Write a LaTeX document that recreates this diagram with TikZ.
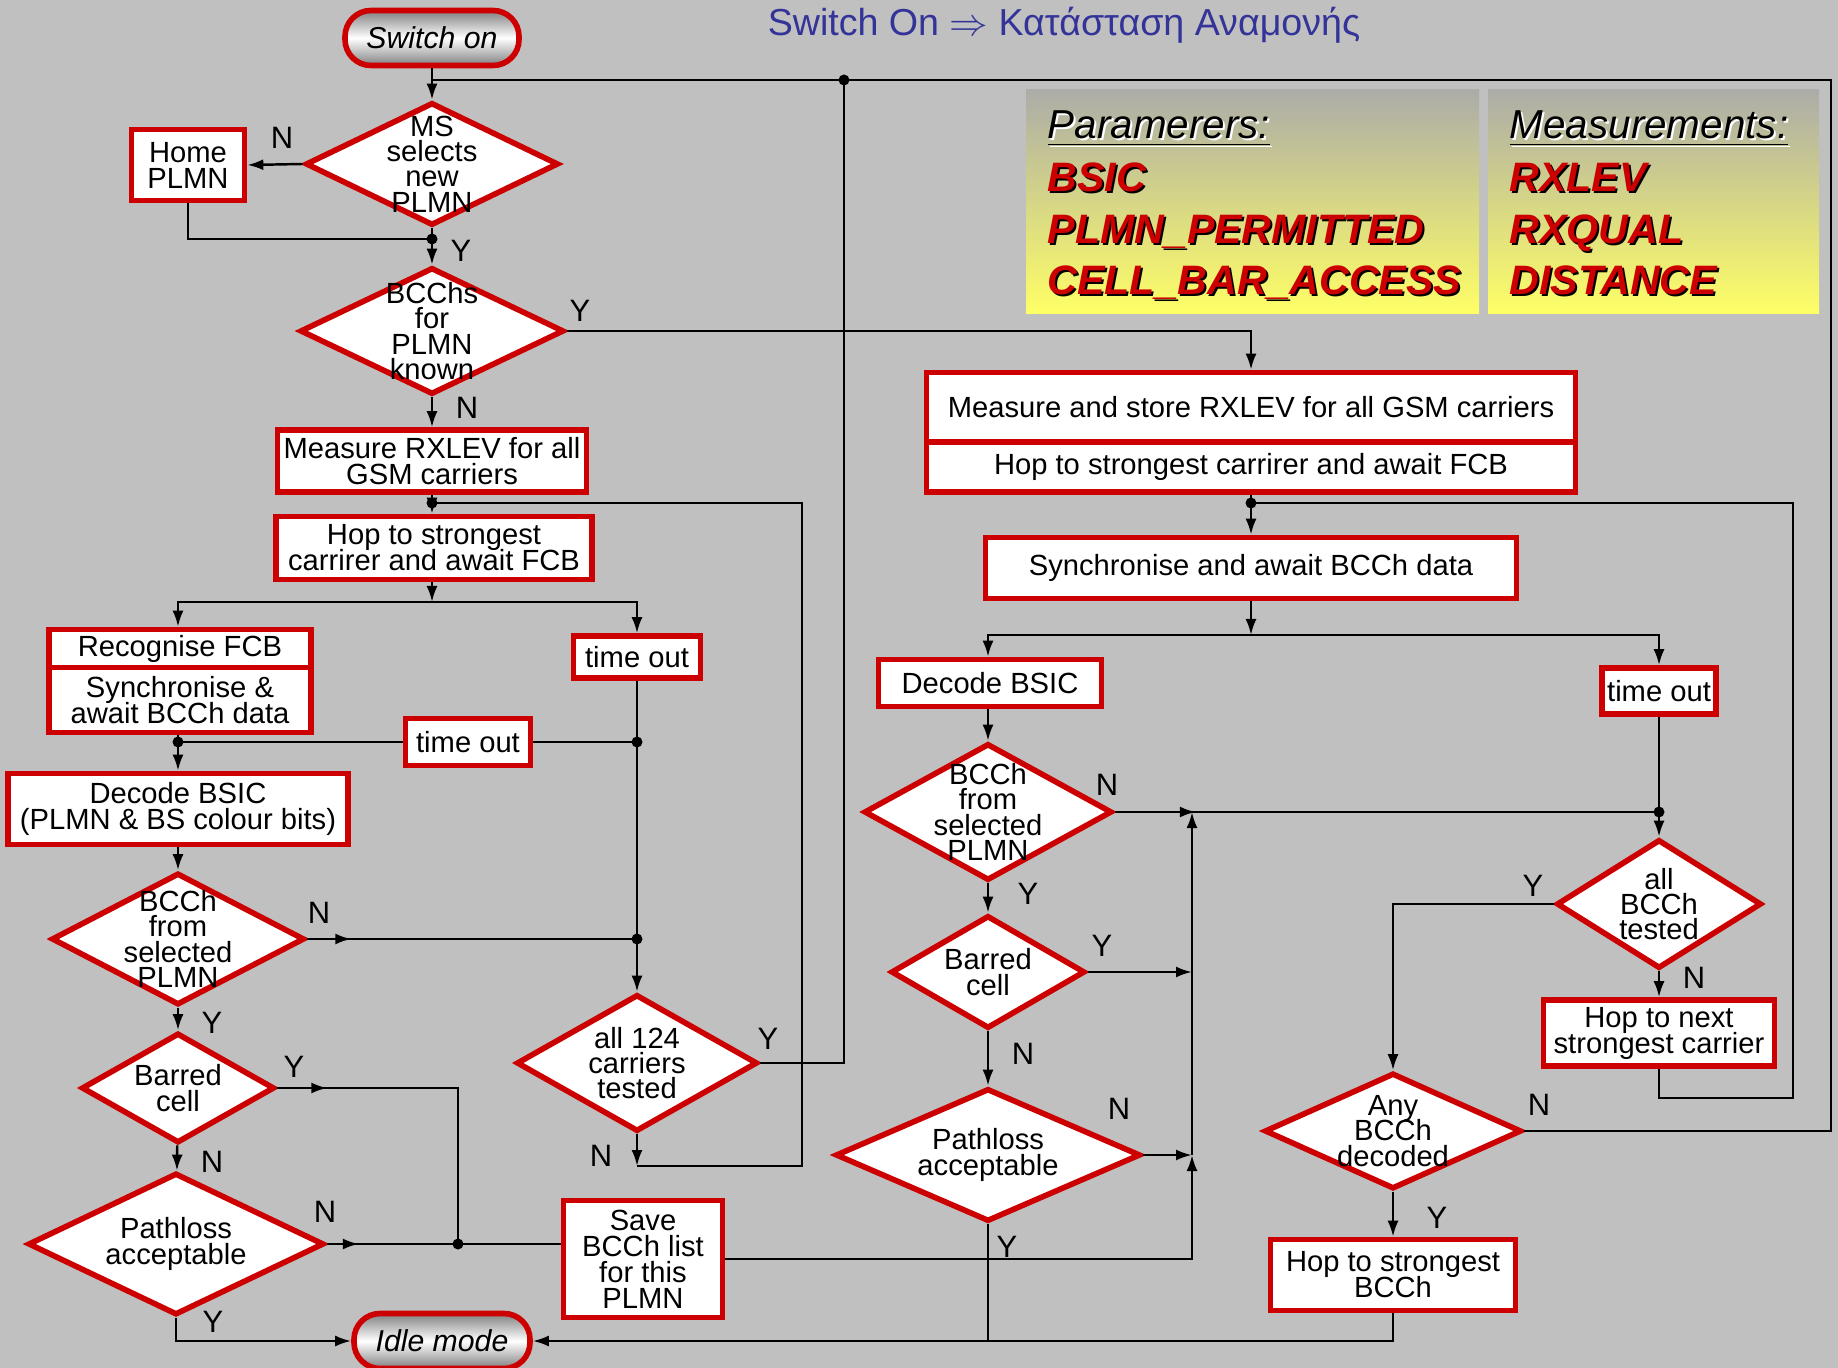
\documentclass[tikz,border=0pt]{standalone}
\usepackage{fontspec}
\setmainfont{Liberation Sans}
\usetikzlibrary{shapes,arrows.meta,positioning,decorations.markings}

\definecolor{bggray}{RGB}{192,192,192}
\definecolor{boxred}{RGB}{204,0,0}
\definecolor{titleblue}{RGB}{51,51,153}
\definecolor{legtop}{RGB}{172,172,168}
\definecolor{legbot}{RGB}{255,255,102}
\lineskiplimit=-20pt

\begin{document}
\begin{tikzpicture}[x=0.1mm, y=-0.1mm,
    block/.style={rectangle, draw=boxred, line width=1.6pt, fill=white, align=center, inner sep=1pt,
      font=\fontsize{8.3}{7.4}\selectfont},
    decision/.style={diamond, draw=boxred, line width=1.6pt, fill=white, inner sep=0pt},
    dtext/.style={align=center, inner sep=0pt, font=\fontsize{8.3}{7.2}\selectfont},
    terminal/.style={rectangle, rounded corners=2.6mm, draw=boxred, line width=1.6pt,
      top color=gray, bottom color=gray, middle color=white, font=\fontsize{8.6}{10}\selectfont\itshape},
    line/.style={draw, -{Latex[length=1.6mm,width=1.1mm]}, line width=0.7pt},
    wire/.style={draw, line width=0.7pt},
    midarrow/.style={postaction={decorate, decoration={markings,
      mark=at position #1 with {\arrow{Latex[length=1.6mm,width=1.1mm]}}}}},
    dot/.style={circle, fill=black, inner sep=0pt, minimum size=1.1mm},
    yn/.style={font=\fontsize{8.8}{9}\selectfont, inner sep=0pt},
    legpanel/.style={rectangle, top color=legtop, bottom color=legbot, inner sep=0pt},
    leghead/.style={anchor=base west, inner sep=0pt, font=\fontsize{11.5}{14}\selectfont\itshape},
    legitem/.style={anchor=base west, inner sep=0pt, font=\fontsize{11.7}{14}\selectfont\bfseries\itshape}]

    \useasboundingbox (0,0) rectangle (1838,1368);
    \fill[bggray] (0,0) rectangle (1838,1368);

    % Title and legend
    \node[font=\fontsize{10.7}{12}\selectfont, text=titleblue] (title) at (1064,25) {Switch On $\Rightarrow$ Κατάσταση Αναμονής};
    \node[legpanel, minimum width=45.3mm, minimum height=22.4mm] (parpanel) at (1252.5,202) {};
    \node[legpanel, minimum width=33.1mm, minimum height=22.4mm] (meapanel) at (1653.5,202) {};
    \node[leghead, text=white] (parheads) at (1049,141) {\underline{Paramerers:}};
    \node[leghead] (parhead) at (1047,139) {\underline{Paramerers:}};
    \node[leghead, text=white] (meaheads) at (1511,141) {\underline{Measurements:}};
    \node[leghead] (meahead) at (1509,139) {\underline{Measurements:}};
    \foreach \ltxt/\ly [count=\i] in {BSIC/192, PLMN\_PERMITTED/244, CELL\_BAR\_ACCESS/295} {
      \node[legitem, text=black] (pars\i) at (1049,\ly+2) {\ltxt};
      \node[legitem, text=boxred] (par\i) at (1047,\ly) {\ltxt};
    }
    \foreach \ltxt/\ly [count=\i] in {RXLEV/192, RXQUAL/244, DISTANCE/295} {
      \node[legitem, text=black] (meas\i) at (1511,\ly+2) {\ltxt};
      \node[legitem, text=boxred] (mea\i) at (1509,\ly) {\ltxt};
    }

    % Nodes, left part
    \node[terminal, minimum width=17.4mm, minimum height=5.5mm] (switchon) at (432,38) {Switch on};
    \node[decision, minimum width=25.3mm, minimum height=12.3mm] (msdec) at (432,164) {};
    \node[dtext] (msdec-t) at (msdec) {MS\\selects\\new\\PLMN};
    \node[block, minimum width=11.3mm, minimum height=7.1mm] (home) at (188,165) {Home\\PLMN};
    \node[decision, minimum width=26.4mm, minimum height=12.7mm] (bcchs) at (432,331) {};
    \node[dtext] (bcchs-t) at (bcchs) {BCChs\\for\\PLMN\\known};
    \node[block, minimum width=30.9mm, minimum height=6.2mm] (measL) at (432,461) {Measure RXLEV for all\\GSM carriers};
    \node[block, minimum width=31.6mm, minimum height=6.3mm] (hopL) at (434,548) {Hop to strongest\\carrirer and await FCB};
    \node[block, minimum width=26.2mm, minimum height=3.9mm] (recog) at (180,649) {Recognise FCB};
    \node[block, minimum width=26.2mm, minimum height=6.5mm] (syncL) at (180,700) {Synchronise \&\\await BCCh data};
    \node[block, minimum width=12.7mm, minimum height=4.2mm] (tout1) at (637,657) {time out};
    \node[block, minimum width=12.5mm, minimum height=4.7mm] (tout2) at (468,742) {time out};
    \node[block, minimum width=34mm, minimum height=7.1mm] (decL) at (178,809) {Decode BSIC\\(PLMN \& BS colour bits)};
    \node[decision, minimum width=25.3mm, minimum height=13.2mm] (bcchL) at (178,939) {};
    \node[dtext] (bcchL-t) at (bcchL) {BCCh\\from\\selected\\PLMN};
    \node[decision, minimum width=19.3mm, minimum height=11mm] (barL) at (178,1088) {};
    \node[dtext] (barL-t) at (barL) {Barred\\cell};
    \node[decision, minimum width=29.6mm, minimum height=14.2mm] (pathL) at (176,1244) {};
    \node[dtext] (pathL-t) at (pathL) {Pathloss\\acceptable};
    \node[decision, minimum width=24.1mm, minimum height=13.7mm] (all124) at (637,1063) {};
    \node[dtext] (all124-t) at (all124) {all 124\\carriers\\tested};
    \node[block, minimum width=15.9mm, minimum height=11.7mm] (save) at (643,1259) {Save\\BCCh list\\for this\\PLMN};
    \node[terminal, minimum width=17.6mm, minimum height=5.5mm] (idle) at (442,1341) {Idle mode};

    % Nodes, right part
    \node[block, minimum width=64.9mm, minimum height=6.9mm] (measR) at (1251,407) {Measure and store RXLEV for all GSM carriers};
    \node[block, minimum width=64.9mm, minimum height=5mm] (hopR) at (1251,467) {Hop to strongest carrirer and await FCB};
    \node[block, minimum width=53.1mm, minimum height=6.1mm] (syncR) at (1251,568) {Synchronise and await BCCh data};
    \node[block, minimum width=22.3mm, minimum height=4.7mm] (decR) at (990,683) {Decode BSIC};
    \node[block, minimum width=11.4mm, minimum height=4.6mm] (tout3) at (1659,691) {time out};
    \node[decision, minimum width=24.8mm, minimum height=13.7mm] (bcchR) at (988,812) {};
    \node[dtext] (bcchR-t) at (bcchR) {BCCh\\from\\selected\\PLMN};
    \node[decision, minimum width=19.4mm, minimum height=11.3mm] (barR) at (988,972) {};
    \node[dtext] (barR-t) at (barR) {Barred\\cell};
    \node[decision, minimum width=30.5mm, minimum height=13.3mm] (pathR) at (988,1155) {};
    \node[dtext] (pathR-t) at (pathR) {Pathloss\\acceptable};
    \node[decision, minimum width=20.5mm, minimum height=12.9mm] (allb) at (1659,904) {};
    \node[dtext] (allb-t) at (allb) {all\\BCCh\\tested};
    \node[block, minimum width=23.1mm, minimum height=6.6mm] (hopnext) at (1659,1033) {Hop to next\\strongest carrier};
    \node[decision, minimum width=25.7mm, minimum height=11.6mm] (anyb) at (1393,1131) {};
    \node[dtext] (anyb-t) at (anyb) {Any\\BCCh\\decoded};
    \node[block, minimum width=24.5mm, minimum height=7.1mm] (hopbest) at (1393,1275) {Hop to strongest\\BCCh};

    % Junctions
    \coordinate (jtop) at (432,80);
    \coordinate (jy) at (844,80);
    \coordinate (rtop) at (1831,80);
    \coordinate (jhome) at (432,239);
    \coordinate (jl1) at (432,503);
    \coordinate (lloop) at (802,503);
    \coordinate (jl2) at (432,602);
    \coordinate (jsync) at (178,742);
    \coordinate (jto) at (637,742);
    \coordinate (jnl) at (637,939);
    \coordinate (jbar) at (458,1244);
    \coordinate (jn124) at (637,1166);
    \coordinate (jr1) at (1251,503);
    \coordinate (rloop) at (1793,1098);
    \coordinate (jr2) at (1251,635);
    \coordinate (jup) at (1192,812);
    \coordinate (jnr) at (1659,812);

    % Edges, left part
    \path [line] (switchon) -- (msdec);
    \path [line] (msdec.west) -- (home.east);
    \path [wire] (home) |- (jhome);
    \path [line] (msdec) -- (bcchs);
    \path [line] (bcchs) -- (measL);
    \path [line] (measL) -- (measL |- hopL.north);
    \path [line] (jl1 |- hopL.south) -- (jl2);
    \path [line] (jl2) -| (recog.north -| jsync);
    \path [line] (jl2) -| (tout1);
    \path [wire] (tout1) -- (jnl);
    \path [line] (jnl) -- (all124);
    \path [line] (jsync |- syncL.south) -- (decL);
    \path [wire] (jsync) -- (tout2);
    \path [wire] (tout2) -- (jto);
    \path [line] (decL) -- (bcchL);
    \path [wire, midarrow=4.4mm] (bcchL.east) -- (jnl);
    \path [line] (bcchL) -- (barL);
    \path [wire, midarrow=5mm] (barL.east) -| (jbar);
    \path [line] (barL) -- (pathL);
    \path [wire, midarrow=3.2mm] (pathL.east) -- (save.west |- pathL.east);
    \path [line] (pathL) |- (idle);
    \path [line] (all124) -- (jn124);
    \path [wire] (jn124) -| (lloop) -- (jl1);
    \path [wire] (all124) -| (jy);
    \path [wire] (anyb) -| (rtop) -- (jtop);

    % Edges, right part
    \path [line] (bcchs) -| (measR);
    \path [line] (hopR) -- (syncR);
    \path [line] (syncR) -- (jr2);
    \path [line] (jr2) -| (decR.north -| bcchR);
    \path [line] (jr2) -| (tout3);
    \path [line] (bcchR |- decR.south) -- (bcchR);
    \path [wire, midarrow=8.1mm] (bcchR.east) -- (jnr);
    \path [line] (bcchR) -- (barR);
    \path [line] (barR.east) -- (barR.east -| jup);
    \path [line] (barR) -- (pathR);
    \path [line] (pathR.east) -- (pathR.east -| jup);
    \path [line] (save.east) -| (pathR.east -| jup);
    \path [line] (pathR.east -| jup) -- (jup);
    \path [line] (pathR) |- (idle);
    \path [wire] (hopbest) |- (pathR |- idle);
    \path [wire] (tout3) -- (jnr);
    \path [line] (jnr) -- (allb);
    \path [line] (allb) -| (anyb);
    \path [line] (allb) -- (hopnext);
    \path [wire] (hopnext) |- (rloop) |- (jr1);
    \path [line] (anyb) -- (hopbest);

    % Dots
    \foreach \j in {jy, jhome, jl1, jsync, jto, jnl, jbar, jr1, jnr}
      \node[dot] (dot-\j) at (\j) {};

    % Y / N labels
    \node[yn] (n-home) at (282,138) {N};
    \node[yn] (y-msdec) at (461,251) {Y};
    \node[yn] (y-bcchs) at (580,311) {Y};
    \node[yn] (n-bcchs) at (467,408) {N};
    \node[yn] (n-bcchL) at (319,913) {N};
    \node[yn] (y-bcchL) at (212,1023) {Y};
    \node[yn] (y-barL) at (294,1067) {Y};
    \node[yn] (n-barL) at (212,1162) {N};
    \node[yn] (n-pathL) at (325,1212) {N};
    \node[yn] (y-pathL) at (213,1322) {Y};
    \node[yn] (y-all124) at (768,1039) {Y};
    \node[yn] (n-all124) at (601,1156) {N};
    \node[yn] (n-bcchR) at (1107,785) {N};
    \node[yn] (y-bcchR) at (1028,894) {Y};
    \node[yn] (y-barR) at (1102,946) {Y};
    \node[yn] (n-barR) at (1023,1054) {N};
    \node[yn] (n-pathR) at (1119,1109) {N};
    \node[yn] (y-pathR) at (1007,1247) {Y};
    \node[yn] (y-allb) at (1533,886) {Y};
    \node[yn] (n-allb) at (1694,978) {N};
    \node[yn] (n-anyb) at (1539,1105) {N};
    \node[yn] (y-anyb) at (1437,1218) {Y};
\end{tikzpicture}
\end{document}
